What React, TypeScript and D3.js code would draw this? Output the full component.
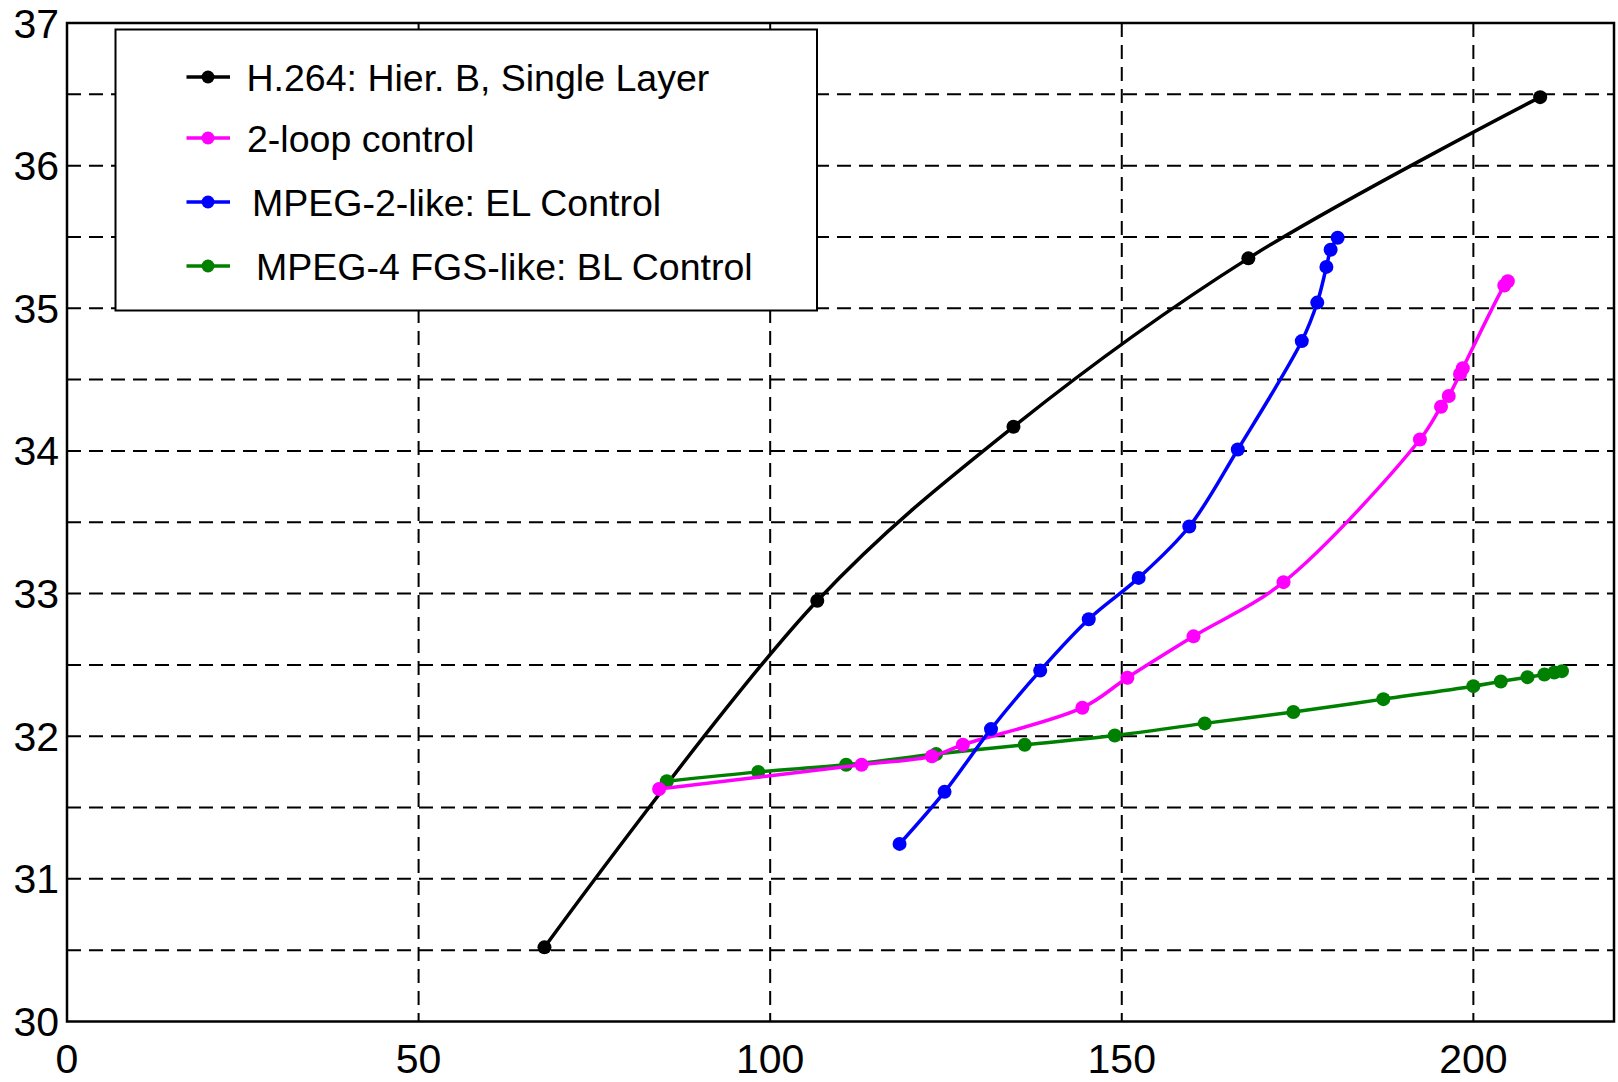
import * as d3 from "d3";
import React from "react";

// H.264: Hier. B, Single Layer
const h264X = [67.9, 106.7, 134.6, 168.0, 209.5];
const h264Y = [30.52, 32.95, 34.17, 35.35, 36.48];

// 2-loop control
const loopX = [84.2, 113.0, 123.0, 127.4, 144.4, 150.8, 160.2, 173.0, 192.4, 195.4, 196.5, 198.1, 198.5, 204.4, 204.9];
const loopY = [31.63, 31.8, 31.86, 31.94, 32.2, 32.41, 32.7, 33.08, 34.08, 34.31, 34.385, 34.54, 34.58, 35.16, 35.19];

// MPEG-2-like: EL Control
const elX = [118.4, 124.8, 131.4, 138.4, 145.3, 152.4, 159.6, 166.5, 175.6, 177.8, 179.1, 179.7, 180.7];
const elY = [31.245, 31.61, 32.05, 32.46, 32.82, 33.11, 33.47, 34.01, 34.77, 35.04, 35.29, 35.41, 35.495];

// MPEG-4 FGS-like: BL Control
const blX = [85.3, 98.3, 110.8, 123.6, 136.2, 149.0, 161.8, 174.4, 187.2, 200.0, 203.9, 207.7, 210.1, 211.5, 212.6];
const blY = [31.684, 31.75, 31.8, 31.875, 31.94, 32.005, 32.09, 32.17, 32.26, 32.351, 32.384, 32.414, 32.433, 32.447, 32.456];

const xTicks = [0, 50, 100, 150, 200];
const yTicks = [30, 31, 32, 33, 34, 35, 36, 37];
const xGrid = [50, 100, 150, 200];
const yGrid = [30.5, 31, 31.5, 32, 32.5, 33, 33.5, 34, 34.5, 35, 35.5, 36, 36.5];

const legendNames = [
  "H.264: Hier. B, Single Layer",
  "2-loop control",
  "MPEG-2-like: EL Control",
  "MPEG-4 FGS-like: BL Control",
];

const W = 1618,
  H = 1082;
const left = 67,
  right = 1614,
  top = 23,
  bottom = 1021.5;
const font = "'Liberation Sans', Arial, Helvetica, sans-serif";

export default function App() {
  const x = d3.scaleLinear().domain([0, 220]).range([left, right]);
  const y = d3.scaleLinear().domain([30, 37]).range([bottom, top]);

  const series = [
    { name: legendNames[0], color: "#000000", xs: h264X, ys: h264Y },
    { name: legendNames[1], color: "#ff00ff", xs: loopX, ys: loopY },
    { name: legendNames[2], color: "#0000ff", xs: elX, ys: elY },
    { name: legendNames[3], color: "#008000", xs: blX, ys: blY },
  ];
  // drawing order seen in the picture: black, green, magenta, blue
  const drawOrder = [0, 3, 1, 2];

  const line = d3
    .line<[number, number]>()
    .x((d) => x(d[0]))
    .y((d) => y(d[1]))
    .curve(d3.curveCatmullRom.alpha(0.5));

  // legend layout
  const lgBox = { x: 115.5, y: 29.5, w: 701.5, h: 281 };
  const lgRows = [77, 138, 202, 266];
  const lgTextX = [246.5, 247, 252, 256];

  return (
    <svg
      width={W}
      height={H}
      style={{ position: "absolute", left: 0, top: 0, background: "#fff" }}
      fontFamily={font}
    >
      <rect x={0} y={0} width={W} height={H} fill="#fff" />
      {/* grid */}
      <g stroke="#000" strokeWidth={2} strokeDasharray="14,8" fill="none">
        {yGrid.map((v) => (
          <line key={"gy" + v} x1={left} x2={right} y1={y(v)} y2={y(v)} />
        ))}
        {xGrid.map((v) => (
          <line key={"gx" + v} x1={x(v)} x2={x(v)} y1={top} y2={bottom} />
        ))}
      </g>
      {/* series */}
      {drawOrder.map((i) => {
        const s = series[i];
        const pts = s.xs.map((v, k) => [v, s.ys[k]] as [number, number]);
        return (
          <g key={s.name}>
            <path d={line(pts) || ""} fill="none" stroke={s.color} strokeWidth={3.5} />
            {pts.map((p, k) => (
              <circle key={k} cx={x(p[0])} cy={y(p[1])} r={7} fill={s.color} />
            ))}
          </g>
        );
      })}
      {/* frame */}
      <rect
        x={left}
        y={top}
        width={right - left}
        height={bottom - top}
        fill="none"
        stroke="#000"
        strokeWidth={2.5}
      />
      {/* tick labels */}
      <g fontSize={41} fill="#000">
        {yTicks.map((v) => (
          <text key={"ty" + v} x={left - 8} y={y(v) + 14.5} textAnchor="end">
            {v}
          </text>
        ))}
        {xTicks.map((v) => (
          <text key={"tx" + v} x={x(v)} y={bottom + 51.5} textAnchor="middle">
            {v}
          </text>
        ))}
      </g>
      {/* legend */}
      <rect
        x={lgBox.x}
        y={lgBox.y}
        width={lgBox.w}
        height={lgBox.h}
        fill="#fff"
        stroke="#000"
        strokeWidth={2}
      />
      {series.map((s, i) => (
        <g key={"lg" + i}>
          <line x1={186.5} x2={230} y1={lgRows[i]} y2={lgRows[i]} stroke={s.color} strokeWidth={3.5} />
          <circle cx={208} cy={lgRows[i]} r={6.5} fill={s.color} />
          <text x={lgTextX[i]} y={lgRows[i] + 14} fontSize={37.5} fill="#000">
            {s.name}
          </text>
        </g>
      ))}
    </svg>
  );
}
